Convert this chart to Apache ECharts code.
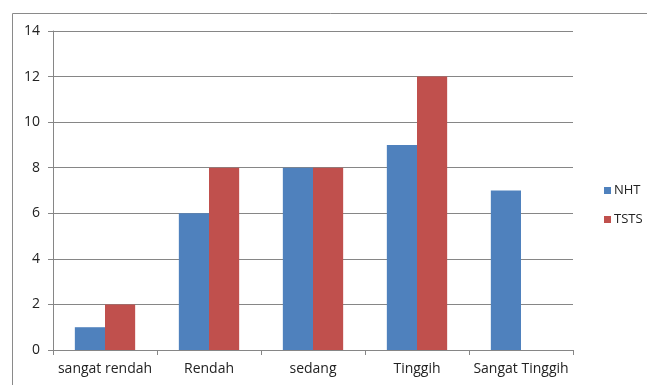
<!DOCTYPE html>
<html><head><meta charset="utf-8">
<script src="https://cdn.jsdelivr.net/npm/echarts@6/dist/echarts.min.js"></script>
<style>html,body{margin:0;padding:0;background:#fff}#c{width:647px;height:385px}</style>
</head><body><div id="c"></div>
<script>
const categories = ['sangat rendah', 'Rendah', 'sedang', 'Tinggih', 'Sangat Tinggih'];
const nht = [1, 6, 8, 9, 7];
const tsts = [2, 8, 8, 12, 0];
const chart = echarts.init(document.getElementById('c'));
const font = 'Open Sans';
chart.setOption({
  animation: false,
  backgroundColor: '#fff',
  textStyle: { fontFamily: font },
  graphic: [{
    type: 'rect', shape: { x: 12.5, y: 13.5, width: 700, height: 450 },
    style: { fill: 'none', stroke: '#8a8a8a', lineWidth: 1 }, silent: true
  }],
  grid: { left: 53, top: 31, right: 74, bottom: 35, containLabel: false },
  legend: {
    orient: 'vertical', left: 599, top: 179, itemWidth: 7, itemHeight: 7, itemGap: 16,
    icon: 'rect', textStyle: { fontFamily: font, fontSize: 13, color: '#222', padding: [0,0,0,-2] },
    data: ['NHT', 'TSTS']
  },
  xAxis: {
    type: 'category', data: categories,
    axisLine: { lineStyle: { color: '#868686', width: 1 } },
    axisTick: { show: true, length: 5, lineStyle: { color: '#868686' } },
    axisLabel: { fontFamily: font, fontSize: 14, color: '#222', margin: 12, interval: 0 }
  },
  yAxis: {
    type: 'value', min: 0, max: 14, interval: 2,
    axisLine: { show: true, lineStyle: { color: '#868686', width: 1 } },
    axisTick: { show: true, length: 5, lineStyle: { color: '#868686' } },
    axisLabel: { fontFamily: font, fontSize: 14, color: '#222', margin: 13 },
    splitLine: { lineStyle: { color: '#868686', width: 1 } }
  },
  series: [
    { name: 'NHT', type: 'bar', data: nht, barGap: '0%', barCategoryGap: '42%', itemStyle: { color: '#4F81BD' } },
    { name: 'TSTS', type: 'bar', data: tsts, itemStyle: { color: '#C0504D' } }
  ]
});
</script></body></html>
